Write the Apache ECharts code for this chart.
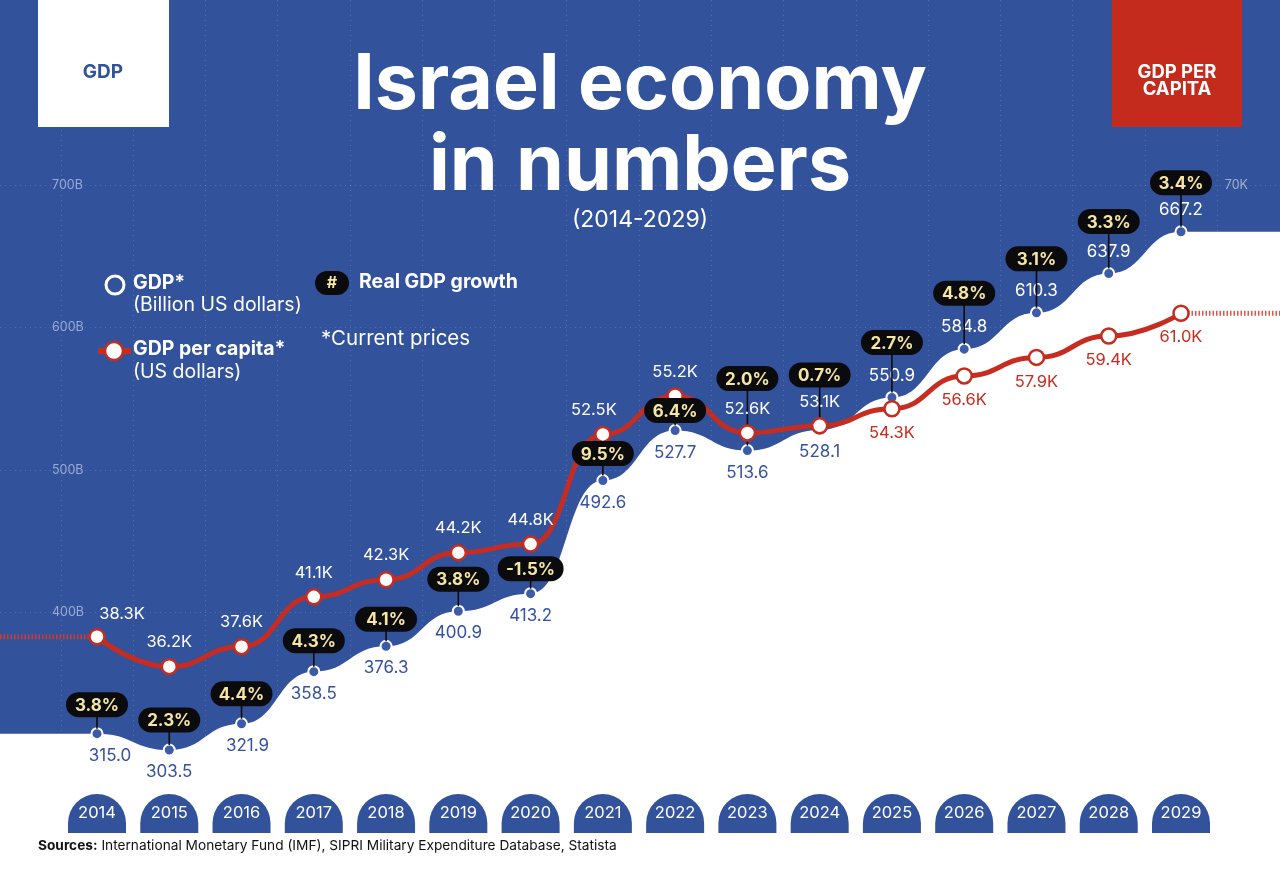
<!DOCTYPE html>
<html><head><meta charset="utf-8">
<script src="https://cdn.jsdelivr.net/npm/echarts@6/dist/echarts.min.js"></script>
<style>html,body{margin:0;padding:0;background:#fff}#c{width:1280px;height:883px}</style>
</head><body><div id="c"></div>
<script>
// ---------- DATA ----------
const years = [2014,2015,2016,2017,2018,2019,2020,2021,2022,2023,2024,2025,2026,2027,2028,2029];
const gdpBillion = [315.0,303.5,321.9,358.5,376.3,400.9,413.2,492.6,527.7,513.6,528.1,550.9,584.8,610.3,637.9,667.2];
const gdpPerCapitaK = [38.3,36.2,37.6,41.1,42.3,44.2,44.8,52.5,55.2,52.6,53.1,54.3,56.6,57.9,59.4,61.0];
const realGrowthPct = [3.8,2.3,4.4,4.3,4.1,3.8,-1.5,9.5,6.4,2.0,0.7,2.7,4.8,3.1,3.3,3.4];
const gdpTickValues = [300,400,500,600,700];
const gdpTickLabels = ['300B','400B','500B','600B','700B'];
const perCapitaTickValues = [30,40,50,60,70];
const perCapitaTickLabels = ['30K','40K','50K','60K','70K'];

// ---------- LAYOUT / STYLE ----------
const W = 1280, H = 883;
const FONT = 'Inter, "Noto Sans", sans-serif';
const BLUE = '#33529c', RED = '#c62c1f', DOT = '#3d5ca8', YEL = '#f5e6a3', INK = '#0b0b0e';
const X_FIRST_PX = 97, X_LAST_PX = 1181;           // centres of first / last year
const Y_TOP_PX = 185, Y_BOT_PX = 755;               // pixel rows of top / bottom tick
const STEP = (X_LAST_PX - X_FIRST_PX) / (years.length - 1);
const gTop = gdpTickValues[gdpTickValues.length-1], gBot = gdpTickValues[0];
const pTop = perCapitaTickValues[perCapitaTickValues.length-1], pBot = perCapitaTickValues[0];
const gPerPx = (gTop - gBot) / (Y_BOT_PX - Y_TOP_PX);
const pPerPx = (pTop - pBot) / (Y_BOT_PX - Y_TOP_PX);
const X_MIN = years[0] - X_FIRST_PX / STEP;
const X_MAX = years[years.length-1] + (W - X_LAST_PX) / STEP;
const G_MIN = gBot - (H - Y_BOT_PX) * gPerPx, G_MAX = gTop + Y_TOP_PX * gPerPx;
const P_MIN = pBot - (H - Y_BOT_PX) * pPerPx, P_MAX = pTop + Y_TOP_PX * pPerPx;
const BAND_L = X_FIRST_PX - STEP/2, BAND_R = W - (X_LAST_PX + STEP/2);

const badgeLift = [29,30,30,31,27,32,25,27,20,72,55,55,56,54,52,49];
const gdpLabelShift = {0:[13,0], 2:[6,0]};
const pcLabelShift = {0:[25,2], 7:[-9,0]};
const SPLIT = 'rgba(255,255,255,0.17)';

const chart = echarts.init(document.getElementById('c'));

const gdpData = [{value:[X_MIN, gdpBillion[0]], symbol:'none', label:{show:false}}]
  .concat(years.map((y,i) => {
    const above = i >= 11;
    return {
      value:[y, gdpBillion[i]],
      label:{show:true, position: above ? 'top' : 'bottom', distance: 7,
        color: above ? '#fff' : '#3651a0', offset: gdpLabelShift[i] || [0,0],
        formatter: () => gdpBillion[i].toFixed(1)}
    };
  }))
  .concat([{value:[X_MAX, gdpBillion[gdpBillion.length-1]], symbol:'none', label:{show:false}}]);

const pcData = years.map((y,i) => {
  const below = i >= 11;
  return {
    value:[y, gdpPerCapitaK[i]],
    label:{show:true, position: below ? 'bottom' : 'top', distance: 7,
      color: below ? RED : '#fff', offset: pcLabelShift[i] || [0,0],
      formatter: () => gdpPerCapitaK[i].toFixed(1) + 'K'}
  };
});

const growthData = years.map((y,i) => [y, gdpBillion[i], realGrowthPct[i]]);

const option = {
  backgroundColor: BLUE,
  animation: false,
  textStyle: {fontFamily: FONT},
  title: [
    {text: 'Israel economy\nin numbers', left: 'center', top: 40,
      textStyle: {color:'#fff', fontSize: 77, fontWeight: 700, lineHeight: 81, fontFamily: FONT}},
    {text: '(2014-2029)', left: 'center', top: 204,
      textStyle: {color:'#fff', fontSize: 23, fontWeight: 400, fontFamily: FONT}}
  ],
  grid: [
    {left: 0, right: 0, top: 0, bottom: 0},                              // 0 plotting
    {left: 0, right: 0, top: Y_TOP_PX, bottom: H - Y_BOT_PX},            // 1 value ticks
    {left: BAND_L, right: BAND_R, top: 0, bottom: 91},                   // 2 year bands (grid lines)
    {left: BAND_L, right: BAND_R, top: 0, bottom: 91}                    // 3 year tabs
  ],
  xAxis: [
    {gridIndex: 0, type: 'value', min: X_MIN, max: X_MAX, show: false},
    {gridIndex: 1, type: 'value', min: 0, max: 1, show: false},
    {gridIndex: 2, type: 'category', data: years, boundaryGap: true, z: 0,
      axisLine: {show: false}, axisTick: {show: false}, axisLabel: {show: false},
      splitLine: {show: true, interval: 0, lineStyle: {color: SPLIT, type: [1,4], width: 1}}},
    {gridIndex: 3, type: 'category', data: years, boundaryGap: true, z: 10,
      axisLine: {show: false}, axisTick: {show: false}, splitLine: {show: false},
      axisLabel: {margin: 1, interval: 0,
        formatter: v => '{t|' + v + '}',
        rich: {t: {backgroundColor: BLUE, color: '#fff', fontSize: 16.5, fontFamily: FONT,
          width: 58, height: 39, lineHeight: 41, align: 'center', borderRadius: [29,29,0,0]}}}}
  ],
  yAxis: [
    {gridIndex: 0, type: 'value', min: G_MIN, max: G_MAX, show: false},
    {gridIndex: 0, type: 'value', min: P_MIN, max: P_MAX, show: false},
    {gridIndex: 1, type: 'value', min: gBot, max: gTop, interval: 100, position: 'left',
      axisLine: {show: false}, axisTick: {show: false},
      axisLabel: {inside: true, margin: 52, color: '#9aaad6', fontSize: 12.5, fontFamily: FONT,
        formatter: v => { const k = gdpTickValues.indexOf(v); return k >= 0 ? gdpTickLabels[k] : ''; }},
      splitLine: {show: true, lineStyle: {color: SPLIT, type: [1,4], width: 1}}
    },
    {gridIndex: 1, type: 'value', min: pBot, max: pTop, interval: 10, position: 'right',
      axisLine: {show: false}, axisTick: {show: false},
      axisLabel: {inside: true, margin: 32, color: '#a3aec9', fontSize: 12.5, fontFamily: FONT,
        formatter: v => { const k = perCapitaTickValues.indexOf(v); return k >= 0 ? perCapitaTickLabels[k] : ''; }},
      splitLine: {show: false}
    },
    {gridIndex: 2, type: 'value', min: 0, max: 1, show: false},
    {gridIndex: 3, type: 'value', min: 0, max: 1, show: false}
  ],
  series: [
    {
      name: 'GDP', type: 'line', xAxisIndex: 0, yAxisIndex: 0, z: 2, smooth: 0.5, smoothMonotone: 'x', data: gdpData,
      lineStyle: {width: 0}, areaStyle: {color: '#fff', opacity: 1, origin: 'start'},
      symbol: 'circle', symbolSize: 11,
      itemStyle: {color: DOT, borderColor: '#fff', borderWidth: 2},
      label: {fontSize: 17, fontFamily: FONT}
    },
    {
      name: 'pcExtL', type: 'line', xAxisIndex: 0, yAxisIndex: 1, z: 3, silent: true, symbol: 'none',
      data: [[X_MIN, gdpPerCapitaK[0]], [years[0], gdpPerCapitaK[0]]],
      lineStyle: {color: '#d23a2e', width: 5, type: [1.5, 2]}
    },
    {
      name: 'pcExtR', type: 'line', xAxisIndex: 0, yAxisIndex: 1, z: 3, silent: true, symbol: 'none',
      data: [[years[years.length-1], gdpPerCapitaK[gdpPerCapitaK.length-1]], [X_MAX, gdpPerCapitaK[gdpPerCapitaK.length-1]]],
      lineStyle: {color: '#d9574d', width: 5, type: [1.5, 2]}
    },
    {
      name: 'connectors', type: 'custom', xAxisIndex: 0, yAxisIndex: 0, z: 3, silent: true, data: growthData,
      encode: {x: 0, y: 1},
      renderItem: (params, api) => {
        const i = params.dataIndex;
        const p = api.coord([api.value(0), api.value(1)]);
        return {type: 'line', shape: {x1: p[0], y1: p[1] - 5, x2: p[0], y2: p[1] - badgeLift[i]},
          style: {stroke: INK, lineWidth: 1.6}};
      }
    },
    {
      name: 'GDP per capita', type: 'line', xAxisIndex: 0, yAxisIndex: 1, z: 4, smooth: 0.5, smoothMonotone: 'x', data: pcData,
      lineStyle: {color: RED, width: 5},
      symbol: 'circle', symbolSize: 15,
      itemStyle: {color: '#fff', borderColor: RED, borderWidth: 2.5},
      label: {fontSize: 16.5, fontFamily: FONT}
    },
    {
      name: 'Real GDP growth', type: 'custom', xAxisIndex: 0, yAxisIndex: 0, z: 5, silent: true, data: growthData,
      encode: {x: 0, y: 1},
      renderItem: (params, api) => {
        const i = params.dataIndex;
        const p = api.coord([api.value(0), api.value(1)]);
        const txt = api.value(2).toFixed(1) + '%';
        const w = txt.length >= 5 ? 66 : 62, h = 25;
        const cy = p[1] - badgeLift[i];
        return {type: 'group', children: [
          {type: 'rect', shape: {x: p[0] - w/2, y: cy - h/2, width: w, height: h, r: 12.5}, style: {fill: INK}},
          {type: 'text', x: p[0], y: cy + 1, style: {text: txt, fill: YEL, font: '700 17px ' + FONT, align: 'center', verticalAlign: 'middle'}}
        ]};
      }
    }
  ],
  graphic: [
    {type: 'rect', shape: {x: 38, y: 0, width: 131, height: 127}, style: {fill: '#fff'}, z: 10},
    {type: 'text', x: 103, y: 72, style: {text: 'GDP', fill: BLUE, font: '700 19px ' + FONT, align: 'center', verticalAlign: 'middle'}, z: 11},
    {type: 'rect', shape: {x: 1112, y: 0, width: 130, height: 127}, style: {fill: '#c42b1c'}, z: 10},
    {type: 'text', x: 1177, y: 81, style: {text: 'GDP PER\nCAPITA', fill: '#fff', font: '700 18.5px ' + FONT, lineHeight: 17, align: 'center', verticalAlign: 'middle'}, z: 11},
    // legend
    {type: 'circle', shape: {cx: 115, cy: 285, r: 9}, style: {fill: 'none', stroke: '#fff', lineWidth: 3}, z: 10},
    {type: 'text', x: 133, y: 283, style: {text: 'GDP*', fill: '#fff', font: '700 19.5px ' + FONT, verticalAlign: 'middle'}, z: 10},
    {type: 'text', x: 133, y: 305, style: {text: '(Billion US dollars)', fill: '#fff', font: '400 19.5px ' + FONT, verticalAlign: 'middle'}, z: 10},
    {type: 'line', shape: {x1: 98, y1: 351, x2: 131, y2: 351}, style: {stroke: RED, lineWidth: 6}, z: 10},
    {type: 'circle', shape: {cx: 114, cy: 351, r: 9}, style: {fill: '#fff', stroke: RED, lineWidth: 2.5}, z: 11},
    {type: 'text', x: 133, y: 349, style: {text: 'GDP per capita*', fill: '#fff', font: '700 19.5px ' + FONT, verticalAlign: 'middle'}, z: 10},
    {type: 'text', x: 133, y: 372, style: {text: '(US dollars)', fill: '#fff', font: '400 19.5px ' + FONT, verticalAlign: 'middle'}, z: 10},
    {type: 'rect', shape: {x: 315, y: 271, width: 34, height: 24, r: 12}, style: {fill: INK}, z: 10},
    {type: 'text', x: 332, y: 283, style: {text: '#', fill: YEL, font: '700 16px ' + FONT, align: 'center', verticalAlign: 'middle'}, z: 11},
    {type: 'text', x: 359, y: 282, style: {text: 'Real GDP growth', fill: '#fff', font: '700 19.5px ' + FONT, verticalAlign: 'middle'}, z: 10},
    {type: 'text', x: 321, y: 339, style: {text: '*Current prices', fill: '#fff', font: '400 20.5px ' + FONT, verticalAlign: 'middle'}, z: 10},
    // sources
    {type: 'text', x: 38, y: 846, z: 10, style: {
      text: '{b|Sources:} International Monetary Fund (IMF), SIPRI Military Expenditure Database, Statista',
      fill: '#111', font: '400 13.7px ' + FONT, verticalAlign: 'middle',
      rich: {b: {fontWeight: 700, fontSize: 13.7, fontFamily: FONT, fill: '#111'}}}}
  ]
};
chart.setOption(option);
</script></body></html>
